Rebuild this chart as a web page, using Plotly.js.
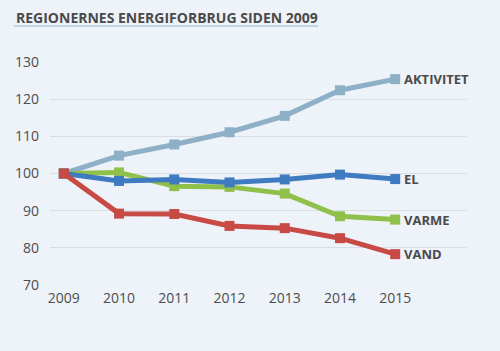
<!DOCTYPE html>
<html><head><meta charset="utf-8">
<script src="https://cdn.plot.ly/plotly-3.0.1.min.js"></script>
<style>html,body{margin:0;padding:0;background:#eef2f9;}#chart{width:500px;height:351px;}</style>
</head><body><div id="chart"></div>
<script>
const years = [2009, 2010, 2011, 2012, 2013, 2014, 2015];
const aktivitet = [100, 104.8, 107.8, 111.1, 115.5, 122.4, 125.4];
const el = [100, 98.0, 98.4, 97.6, 98.4, 99.7, 98.5];
const varme = [100, 100.3, 96.6, 96.4, 94.6, 88.5, 87.6];
const vand = [100, 89.2, 89.1, 85.9, 85.3, 82.6, 78.3];
const seriesNames = ["AKTIVITET", "EL", "VARME", "VAND"];
const seriesColors = ["#8db0c6", "#3f7bc0", "#8fc04a", "#c84a45"];
const seriesData = [aktivitet, el, varme, vand];
const xTicks = years.map(String);
const yTicks = [70, 80, 90, 100, 110, 120, 130];

const order = [0, 2, 1, 3];
const traces = order.map(i => ({
  x: years, y: seriesData[i], type: 'scatter', mode: 'lines+markers',
  name: seriesNames[i],
  line: {color: seriesColors[i], width: 5},
  marker: {symbol: 'square', size: 10, color: seriesColors[i]},
  hoverinfo: 'skip'
}));

const annotations = seriesNames.map((n, i) => ({
  x: years[years.length - 1], y: seriesData[i][seriesData[i].length - 1],
  xref: 'x', yref: 'y', text: n, showarrow: false,
  xanchor: 'left', yanchor: 'middle', xshift: 7,
  font: {family: 'Open Sans', size: 13, color: '#4a4a4a', weight: 700}
}));

const layout = {
  width: 500, height: 351,
  paper_bgcolor: '#eef2f9', plot_bgcolor: '#eef2f9',
  margin: {l: 50, r: 33, t: 62, b: 66},
  showlegend: false,
  xaxis: {
    range: [2008.75, 2016.3], tickvals: years, ticktext: xTicks,
    showgrid: false, zeroline: false, showline: false, ticks: '',
    tickfont: {family: 'Open Sans', size: 14, color: '#4d4d4d'},
    ticklabelstandoff: 3, fixedrange: true
  },
  yaxis: {
    range: [70, 130], tickvals: yTicks, ticktext: yTicks.map(String),
    showgrid: true, gridcolor: '#d9dde4', gridwidth: 1, zeroline: false, showline: false, ticks: '',
    tickfont: {family: 'Open Sans', size: 14, color: '#4d4d4d'},
    ticklabelstandoff: 10, fixedrange: true
  },
  annotations: annotations.concat([{
    xref: 'paper', yref: 'paper', x: -0.087, y: 1.20, xanchor: 'left', yanchor: 'middle',
    text: 'REGIONERNES ENERGIFORBRUG SIDEN 2009', showarrow: false,
    font: {family: 'Open Sans', size: 14, color: '#4a4a4a', weight: 700}
  }]),
  shapes: [{
    type: 'line', xref: 'paper', yref: 'paper', x0: -0.087, x1: 0.643, y0: 1.161, y1: 1.161,
    line: {color: '#bcd6ea', width: 2}
  }]
};
Plotly.newPlot('chart', traces, layout, {displayModeBar: false, staticPlot: true});
</script></body></html>
